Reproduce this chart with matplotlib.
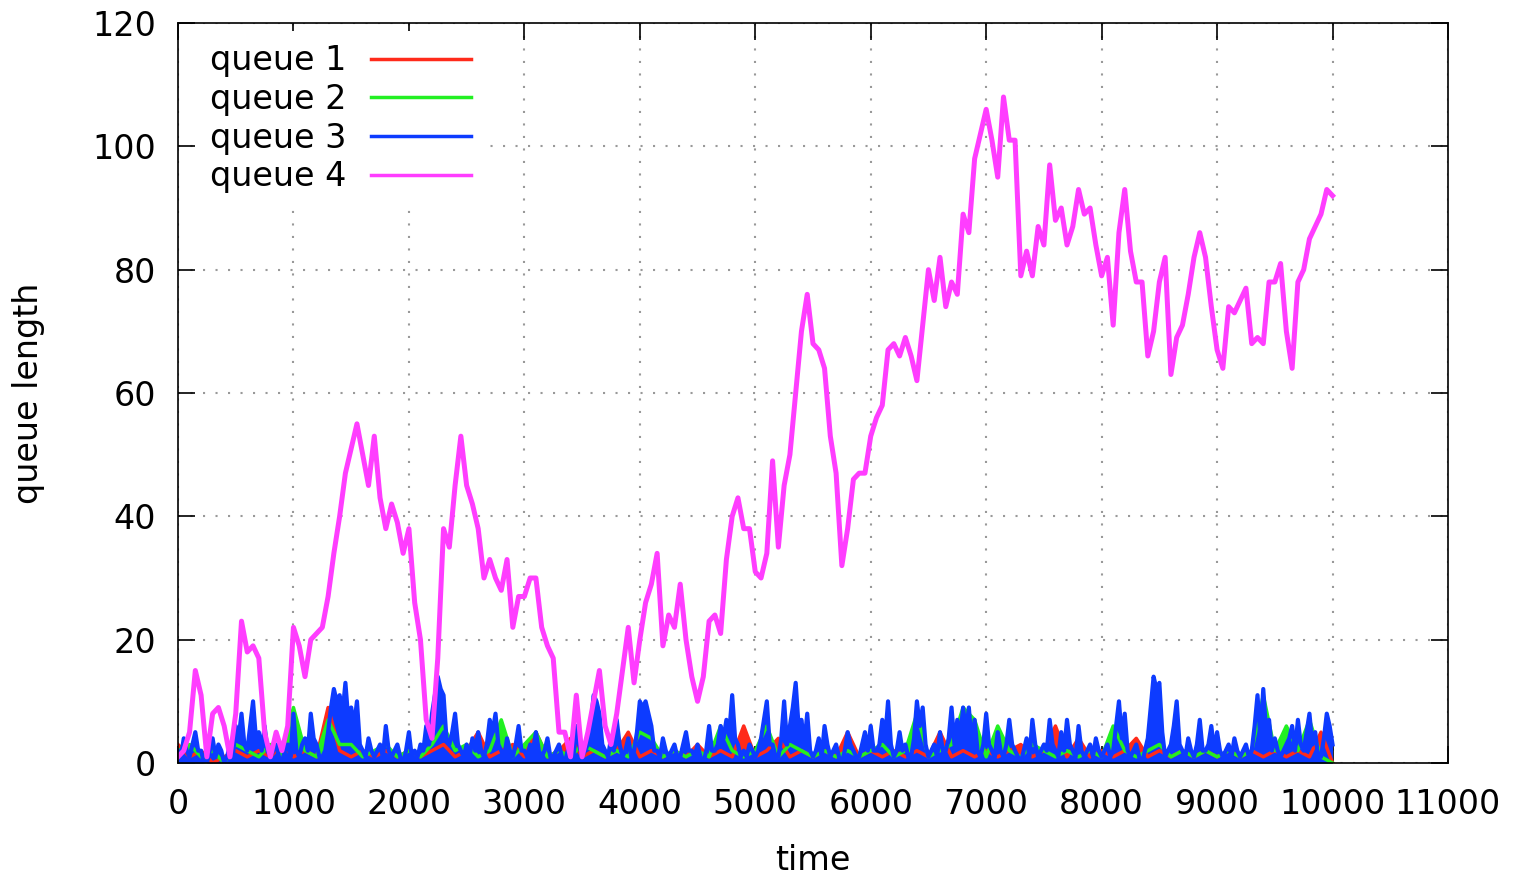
import numpy as np
import matplotlib
matplotlib.use('agg')
import matplotlib.pyplot as plt

# queue lengths
step_q4 = 50       # queue 4 sampled every 50 time units
step_q3 = 25       # queue 3 is very spiky, every 25 time units
step_q12 = 100     # queue 1 and 2 mostly hidden, every 100 time units

queue4 = [
    1, 2, 5, 15, 11, 1, 8, 9, 6, 1,
    8, 23, 18, 19, 17, 5, 1, 5, 2, 6,
    22, 19, 14, 20, 21, 22, 27, 34, 40, 47,
    51, 55, 50, 45, 53, 43, 38, 42, 39, 34,
    38, 26, 20, 7, 4, 17, 38, 35, 45, 53,
    45, 42, 38, 30, 33, 30, 28, 33, 22, 27,
    27, 30, 30, 22, 19, 17, 5, 5, 1, 11,
    1, 5, 10, 15, 6, 3, 8, 15, 22, 13,
    20, 26, 29, 34, 19, 24, 22, 29, 20, 14,
    10, 14, 23, 24, 21, 33, 40, 43, 38, 38,
    31, 30, 34, 49, 35, 45, 50, 60, 70, 76,
    68, 67, 64, 53, 47, 32, 38, 46, 47, 47,
    53, 56, 58, 67, 68, 66, 69, 66, 62, 71,
    80, 75, 82, 74, 78, 76, 89, 86, 98, 102,
    106, 101, 95, 108, 101, 101, 79, 83, 79, 87,
    84, 97, 88, 90, 84, 87, 93, 89, 90, 84,
    79, 82, 71, 86, 93, 83, 78, 78, 66, 70,
    78, 82, 63, 69, 71, 76, 82, 86, 82, 74,
    67, 64, 74, 73, 75, 77, 68, 69, 68, 78,
    78, 81, 70, 64, 78, 80, 85, 87, 89, 93,
    92,
]

queue3 = [
    2, 1, 4, 2, 1, 3, 5, 2, 2, 0, 0, 2, 4, 1, 3, 2, 0, 1, 3, 1,
    6, 4, 8, 3, 2, 6, 10, 4, 5, 2, 6, 2, 1, 2, 3, 1, 0, 2, 3, 1,
    8, 2, 1, 3, 4, 2, 8, 4, 3, 1, 1, 2, 5, 9, 12, 10, 11, 8, 13, 7,
    9, 6, 10, 3, 2, 1, 4, 2, 1, 2, 3, 1, 6, 2, 1, 2, 3, 1, 0, 2,
    5, 1, 2, 1, 3, 2, 6, 3, 8, 11, 14, 12, 11, 4, 3, 5, 8, 3, 2, 1,
    3, 1, 4, 2, 5, 2, 1, 3, 7, 5, 8, 3, 2, 1, 4, 2, 1, 3, 6, 2,
    2, 1, 3, 2, 5, 2, 1, 2, 4, 1, 1, 2, 3, 1, 0, 2, 2, 1, 6, 3,
    1, 2, 3, 6, 11, 10, 8, 3, 2, 1, 4, 2, 7, 3, 1, 2, 4, 1, 2, 5,
    10, 9, 10, 8, 6, 2, 2, 1, 4, 2, 1, 2, 3, 1, 1, 3, 5, 2, 2, 1,
    3, 1, 0, 2, 6, 2, 2, 3, 6, 4, 7, 5, 11, 4, 3, 1, 2, 1, 3, 2,
    1, 2, 4, 7, 10, 3, 3, 1, 1, 4, 10, 3, 6, 9, 13, 6, 7, 3, 8, 2,
    1, 2, 4, 1, 6, 3, 1, 2, 3, 1, 0, 2, 5, 3, 2, 1, 1, 3, 5, 2,
    6, 2, 2, 3, 7, 4, 10, 3, 1, 2, 5, 2, 3, 1, 1, 4, 10, 6, 9, 3,
    1, 2, 3, 1, 5, 2, 2, 4, 9, 3, 7, 4, 9, 5, 9, 3, 7, 2, 1, 3,
    8, 3, 2, 1, 5, 2, 1, 3, 7, 3, 2, 1, 0, 2, 4, 1, 7, 3, 1, 2,
    3, 2, 7, 3, 2, 1, 5, 2, 7, 3, 2, 1, 6, 2, 1, 2, 3, 1, 4, 2,
    1, 2, 3, 1, 2, 6, 10, 4, 8, 2, 1, 2, 3, 1, 0, 2, 4, 9, 14, 12,
    13, 5, 1, 2, 3, 6, 10, 3, 2, 1, 4, 2, 1, 3, 7, 2, 2, 3, 6, 2,
    5, 2, 1, 2, 3, 1, 4, 2, 1, 2, 3, 1, 2, 6, 11, 4, 12, 5, 7, 2,
    4, 2, 1, 2, 3, 4, 6, 2, 7, 3, 2, 5, 8, 3, 5, 1, 1, 4, 8, 6,
    3,
]

queue2 = [
    2, 3, 1, 2, 0, 3, 2, 1, 3, 2,
    9, 2, 1, 7, 3, 3, 1, 2, 3, 1,
    2, 1, 3, 6, 2, 3, 1, 2, 7, 1,
    3, 5, 1, 2, 1, 3, 2, 1, 2, 1,
    5, 4, 1, 2, 1, 2, 1, 6, 2, 1,
    2, 6, 1, 3, 2, 1, 2, 1, 2, 1,
    2, 3, 1, 2, 8, 1, 2, 3, 9, 7,
    1, 6, 2, 1, 3, 2, 1, 2, 1, 2,
    1, 6, 2, 1, 2, 3, 1, 2, 1, 2,
    1, 2, 1, 2, 11, 2, 6, 2, 7, 1,
    0,
]

queue1 = [
    3, 1, 2, 0, 1, 2, 1, 2, 1, 3,
    1, 2, 1, 9, 2, 1, 2, 1, 2, 1,
    2, 1, 2, 3, 1, 2, 5, 1, 2, 3,
    1, 5, 1, 2, 4, 1, 2, 1, 2, 5,
    1, 2, 1, 2, 1, 3, 1, 2, 1, 6,
    1, 2, 4, 1, 2, 1, 2, 1, 5, 1,
    2, 1, 2, 1, 2, 1, 5, 1, 2, 1,
    2, 1, 2, 3, 1, 2, 6, 1, 4, 1,
    2, 1, 2, 4, 1, 2, 1, 2, 1, 2,
    1, 2, 1, 2, 1, 2, 1, 2, 1, 5,
    0,
]

labels = ['queue 1', 'queue 2', 'queue 3', 'queue 4']
colors = ['#ff2a1a', '#22f022', '#0d3bff', '#ff3dff']
x_ticks = list(range(0, 11001, 1000))
y_ticks = list(range(0, 121, 20))

t4 = np.arange(len(queue4)) * step_q4
t3 = np.arange(len(queue3)) * step_q3
t12 = np.arange(len(queue1)) * step_q12

plt.rcParams['font.family'] = 'DejaVu Sans'
plt.rcParams['font.size'] = 24

fig = plt.figure(figsize=(15.15, 8.75), dpi=100)
ax = fig.add_axes([178 / 1515, 1 - 763 / 875, 1270 / 1515, 740 / 875])

# the low queues wiggle so fast in the original that they read as filled bands
ax.fill_between(t12, queue1, color=colors[0], lw=0)
ax.plot(t12, queue1, color=colors[0], lw=2.5, label=labels[0])
ax.fill_between(t12, queue2, color=colors[1], lw=0)
ax.plot(t12, queue2, color=colors[1], lw=2.5, label=labels[1])
ax.fill_between(t3, queue3, color=colors[2], lw=0)
ax.plot(t3, queue3, color=colors[2], lw=3.0, label=labels[2])
ax.plot(t4, queue4, color=colors[3], lw=3.6, label=labels[3])

ax.set_xlim(0, 11000)
ax.set_ylim(0, 120)
ax.set_xticks(x_ticks)
ax.set_yticks(y_ticks)
ax.tick_params(direction='in', length=12, width=1.2, top=True, right=True,
               labelsize=24, colors='black')
ax.tick_params(axis='y', pad=16)
ax.tick_params(axis='x', pad=18)
for sp in ax.spines.values():
    sp.set_linewidth(1.2)

ax.grid(True, color='#999999', linestyle=(0, (1, 5)), linewidth=1.5)
ax.set_axisbelow(True)

ax.set_xlabel('time', fontsize=24)
ax.set_ylabel('queue length', fontsize=24)
ax.xaxis.set_label_coords(0.5, -0.109)
ax.yaxis.set_label_coords(-0.105, 0.5)

leg = ax.legend(loc='upper left', bbox_to_anchor=(0.0145, 0.989), markerfirst=False,
                handlelength=3.0, handletextpad=0.75, labelspacing=0.17,
                borderpad=0.4, borderaxespad=0, fontsize=24, fancybox=False)
leg.get_frame().set_facecolor('white')
leg.get_frame().set_edgecolor('none')
leg.get_frame().set_alpha(1)
for line in leg.get_lines():
    line.set_linewidth(2.5)

fig.savefig('out.png', dpi=100)
